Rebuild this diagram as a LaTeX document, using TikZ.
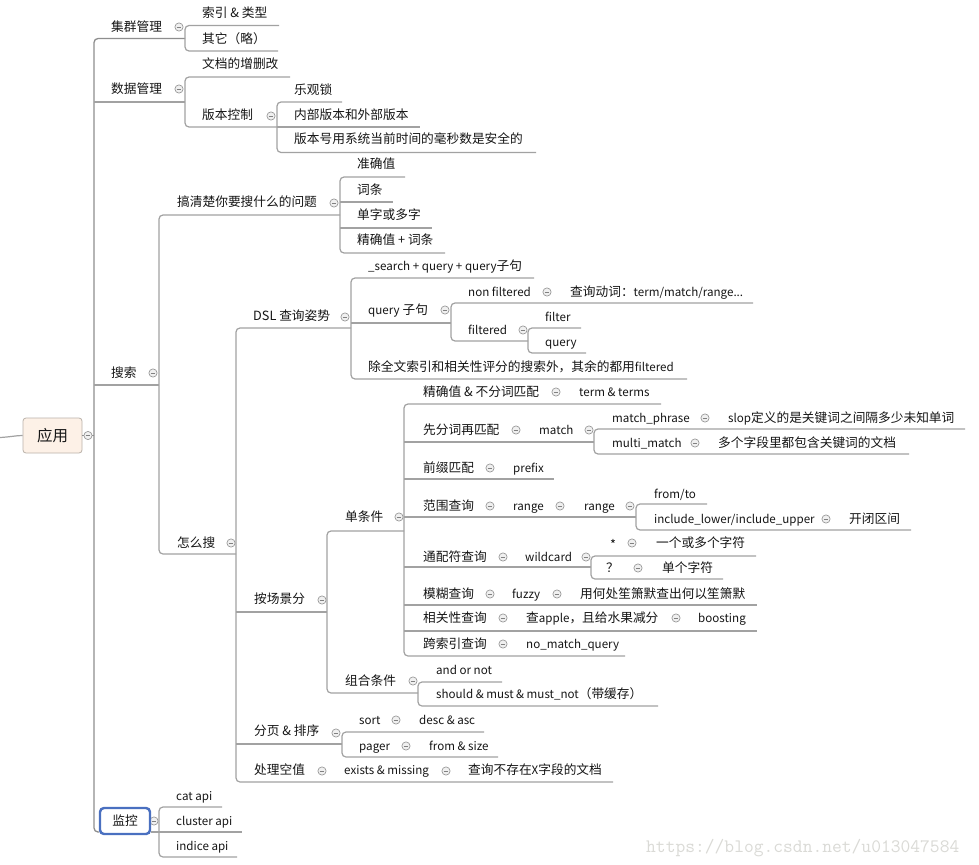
\documentclass[tikz,border=0pt]{standalone}
\usepackage{fontspec}
\setmainfont{Noto Sans CJK SC}
\definecolor{lncol}{HTML}{A2A2A2}
\definecolor{rootln}{HTML}{8E8E8E}
\definecolor{btnline}{HTML}{9A9A9A}
\definecolor{btnfill}{HTML}{F0F0F0}
\definecolor{btnminus}{HTML}{808080}
\definecolor{rootfill}{HTML}{FDF1E7}
\definecolor{rootdraw}{HTML}{BAB2AA}
\definecolor{selblue}{HTML}{4A70C0}
\definecolor{txtcol}{HTML}{151515}
\definecolor{wmcol}{HTML}{DADAD6}
\tikzset{
  tx/.style={anchor=base west, inner sep=0pt, text=txtcol, font=\fontsize{12.7pt}{15pt}\selectfont},
  ln/.style={draw=lncol, line width=1.2pt},
  bus/.style={ln, rounded corners=4pt},
  colbtn/.pic={\draw[draw=btnline, fill=btnfill, line width=0.7pt] (0,0) circle[radius=4.1pt];
               \draw[draw=btnminus, line width=0.8pt] (-2.3pt,0) -- (2.3pt,0);}
}
\newcommand\Tx[4]{\node[tx] (#1) at (#2,{#3+4.6}) {#4};}
\newcommand\Bt[2]{\pic at (#1,#2) {colbtn};}
\newcommand\lt[1]{{\fontsize{11.6pt}{14pt}\selectfont #1}}
\begin{document}
\begin{tikzpicture}[x=1pt,y=-1pt]
\useasboundingbox[fill=white] (0,0) rectangle (979,864);

% ---------- root ----------
\node[draw=rootdraw, fill=rootfill, rounded corners=3pt, line width=0.8pt,
      minimum width=59pt, minimum height=35pt, inner sep=0pt, text=txtcol,
      font=\fontsize{15.5pt}{18pt}\selectfont] (root) at (52.5,435.5) {应用};
\coordinate (lfree) at (0,437.5);
\draw[ln] (lfree) .. controls (10,437) and (16,435.5) .. (root.west);
\coordinate (rv) at (94,435.5);
\draw[draw=rootln, line width=1.2pt] (root.east) -- (rv);
\draw[draw=rootln, line width=1.3pt, rounded corners=4pt] (185,38.5) -- (94,38.5) -- (94,832) -- (99,832);
\draw[ln] (94,102) -- (185,102);
\draw[ln] (94,385) -- (159,385);
\Bt{88}{435.5}

% ---------- 集群管理 ----------
\Tx{jq}{111}{27}{集群管理} \Bt{179}{27}
\draw[bus] (279,25.5) -- (185,25.5) -- (185,51) -- (278,51);
\Tx{sy}{202}{13}{索引 \& 类型}
\Tx{qt}{202}{39}{其它（略）}

% ---------- 数据管理 ----------
\Tx{sj}{111}{89}{数据管理} \Bt{179}{89}
\draw[bus] (290,77) -- (185,77) -- (185,127) -- (277,127);
\Tx{wd}{202}{64}{文档的增删改}
\Tx{bb}{202}{115}{版本控制} \Bt{271}{116}
\draw[bus] (342,102) -- (277,102) -- (277,152.5) -- (536,152.5);
\draw[ln] (277,127) -- (420,127);
\Tx{lg}{294}{90}{乐观锁}
\Tx{nb}{294}{115}{内部版本和外部版本}
\Tx{bh}{294}{139}{版本号用系统当前时间的毫秒数是安全的}

% ---------- 搜索 ----------
\Tx{ss}{111}{373}{搜索} \Bt{153}{373}
\draw[bus] (340,215) -- (159,215) -- (159,554) -- (236,554);
\Tx{gq}{177}{202}{搞清楚你要搜什么的问题} \Bt{334}{203}
\draw[bus] (405,177) -- (340,177) -- (340,253) -- (445,253);
\draw[ln] (340,202) -- (393,202);
\draw[ln] (340,228) -- (432,228);
\Tx{zq}{357}{164}{准确值}
\Tx{ct}{357}{190}{词条}
\Tx{dz}{357}{215}{单字或多字}
\Tx{jc}{357}{240}{精确值 + 词条}

% ---------- 怎么搜 ----------
\Tx{zms}{177}{543}{怎么搜} \Bt{231}{543}
\draw[bus] (351,328) -- (236,328) -- (236,782) -- (613,782);
\draw[ln] (236,612) -- (327,612);
\draw[ln] (236,744) -- (342,744);

% DSL
\Tx{dsl}{253}{316}{DSL 查询姿势} \Bt{345}{317}
\draw[bus] (534,278) -- (351,278) -- (351,379) -- (687,379);
\draw[ln] (351,323) -- (451,323);
\Tx{srch}{368}{266}{\lt{\_search + query + query}子句}
\Tx{qz}{368}{310}{\lt{query} 子句} \Bt{445}{310}
\draw[bus] (753,303) -- (451,303) -- (451,341) -- (528,341);
\Tx{nf}{468}{292}{\lt{non filtered}} \Bt{547}{292}
\Tx{cx}{570}{292}{查询动词：\lt{term/match/range...}}
\Tx{fd}{468}{330}{\lt{filtered}} \Bt{523}{330}
\draw[bus] (581,328) -- (528,328) -- (528,353) -- (586,353);
\Tx{fl}{545}{317}{\lt{filter}}
\Tx{qy}{545}{342}{\lt{query}}
\Tx{cq}{368}{367}{除全文索引和相关性评分的搜索外，其余的都用\lt{filtered}}

% 按场景分
\Tx{acj}{254}{599}{按场景分} \Bt{322}{600}
\draw[bus] (404,531) -- (327,531) -- (327,693) -- (418,693);
\Tx{dtj}{345}{517}{单条件} \Bt{399}{517}
\draw[bus] (661,404) -- (404,404) -- (404,656) -- (625,656);
\draw[ln] (404,442) -- (594,442);
\draw[ln] (404,479) -- (554,479);
\draw[ln] (404,517) -- (636,517);
\draw[ln] (404,567) -- (591,567);
\draw[ln] (404,605) -- (757,605);
\draw[ln] (404,631) -- (757,631);

\Tx{r1a}{423}{392}{精确值 \& 不分词匹配} \Bt{556}{392}
\Tx{r1b}{579}{392}{\lt{term \& terms}}

\Tx{r2a}{423}{430}{先分词再匹配} \Bt{516}{430}
\Tx{r2b}{539}{430}{\lt{match}} \Bt{589}{430}
\draw[bus] (965,429) -- (594,429) -- (594,454) -- (909,454);
\Tx{mp}{612}{418}{\lt{match\_phrase}} \Bt{705}{418}
\Tx{slop}{728}{418}{\lt{slop}定义的是关键词之间隔多少未知单词}
\Tx{mm}{612}{443}{\lt{multi\_match}} \Bt{695}{443}
\Tx{dg}{718}{443}{多个字段里都包含关键词的文档}

\Tx{r3a}{423}{468}{前缀匹配} \Bt{490}{468}
\Tx{r3b}{513}{468}{\lt{prefix}}

\Tx{r4a}{423}{506}{范围查询} \Bt{490}{506}
\Tx{r4b}{513}{506}{\lt{range}} \Bt{560}{506}
\Tx{r4c}{584}{506}{\lt{range}} \Bt{630}{506}
\draw[bus] (707,504) -- (636,504) -- (636,530) -- (911,530);
\Tx{ft}{654}{494}{\lt{from/to}}
\Tx{il}{654}{519}{\lt{include\_lower/include\_upper}} \Bt{826}{519}
\Tx{kb}{849}{519}{开闭区间}

\Tx{r5a}{423}{557}{通配符查询} \Bt{503}{557}
\Tx{r5b}{525}{557}{\lt{wildcard}} \Bt{586}{557}
\draw[bus] (756,556) -- (591,556) -- (591,579) -- (723,579);
\Tx{st}{610}{545}{*} \Bt{632}{543}
\Tx{yg}{656}{543}{一个或多个字符}
\Tx{qm}{606}{568}{？} \Bt{638}{568}
\Tx{dgz}{662}{568}{单个字符}

\Tx{r6a}{423}{594}{模糊查询} \Bt{490}{594}
\Tx{r6b}{512}{594}{\lt{fuzzy}} \Bt{557}{594}
\Tx{r6c}{580}{594}{用何处笙箫默查出何以笙箫默}

\Tx{r7a}{423}{618}{相关性查询} \Bt{503}{618}
\Tx{r7b}{526}{618}{查\lt{apple}，且给水果减分} \Bt{676}{618}
\Tx{r7c}{698}{618}{\lt{boosting}}

\Tx{r8a}{423}{644}{跨索引查询} \Bt{503}{644}
\Tx{r8b}{526}{644}{\lt{no\_match\_query}}

% 组合条件
\Tx{zh}{345}{681}{组合条件} \Bt{413}{681}
\draw[bus] (502,682) -- (418,682) -- (418,706) -- (658,706);
\Tx{aon}{436}{670}{\lt{and or not}}
\Tx{sm}{436}{694}{\lt{should \& must \& must\_not}（带缓存）}

% 分页 & 排序
\Tx{fy}{254}{731}{分页 \& 排序} \Bt{336}{733}
\draw[bus] (484,732) -- (342,732) -- (342,757) -- (498,757);
\Tx{so}{359}{720}{\lt{sort}} \Bt{396}{720}
\Tx{da}{419}{720}{\lt{desc \& asc}}
\Tx{pg}{359}{746}{\lt{pager}} \Bt{406}{746}
\Tx{fsz}{429}{746}{\lt{from \& size}}

% 处理空值
\Tx{kz}{254}{770}{处理空值} \Bt{322}{771}
\Tx{em}{344}{770}{\lt{exists \& missing}} \Bt{446}{771}
\Tx{bcz}{468}{770}{查询不存在\lt{X}字段的文档}

% ---------- 监控 ----------
\draw[ln] (151,832) -- (242,832);
\draw[bus] (222,807) -- (159,807) -- (159,857) -- (237,857);
\Bt{154}{821}
\node[draw=selblue, fill=white, line width=2.4pt, rounded corners=4pt,
      minimum width=50pt, minimum height=26pt, inner sep=0pt, text=txtcol,
      font=\fontsize{12.7pt}{15pt}\selectfont] (jk) at (125,821) {监控};
\Tx{cat}{176}{796}{\lt{cat api}}
\Tx{clu}{176}{821}{\lt{cluster api}}
\Tx{ind}{176}{846}{\lt{indice api}}

% watermark
\node[anchor=base west, inner sep=0pt, text=wmcol, font=\ttfamily\fontsize{19pt}{21pt}\selectfont] (wm) at (646,852) {https://blog.csdn.net/u013047584};
\end{tikzpicture}
\end{document}
